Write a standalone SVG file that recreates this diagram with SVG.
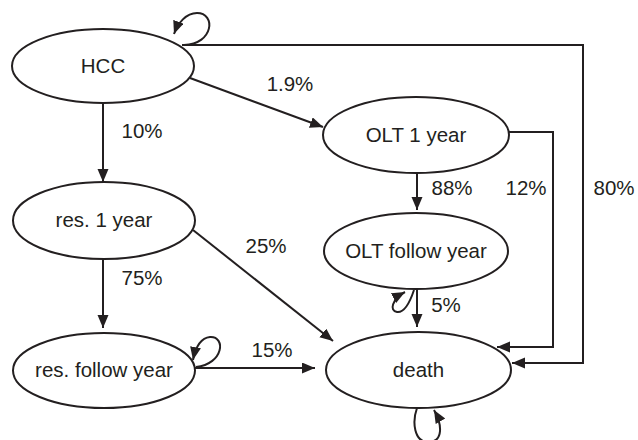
<svg xmlns="http://www.w3.org/2000/svg" width="638" height="440" viewBox="0 0 638 440">
<style>
.node ellipse{fill:#fff;stroke:#231f20;stroke-width:2}
text{font-family:"Liberation Sans",Arial,sans-serif;font-size:20.5px;fill:#231f20;text-anchor:middle}
.edge{fill:none;stroke:#231f20;stroke-width:2}
</style>
<defs>
<marker id="ah" markerUnits="userSpaceOnUse" markerWidth="14" markerHeight="12" refX="13" refY="5.5" orient="auto">
<path d="M0,0 L13,5.5 L0,11 z" fill="#231f20"/>
</marker>
</defs>
<rect width="638" height="440" fill="#fff"/>
<g id="connectors">
<path class="edge" d="M184,45 C214,44 216,13 197,13 C186,13 178,23 174,34" marker-end="url(#ah)"/>
<path class="edge" d="M182,45 L583,45 L583,363 L512,363" marker-end="url(#ah)"/>
<path class="edge" d="M190,78 L323,127" marker-end="url(#ah)"/>
<path class="edge" d="M103,103 L103,182" marker-end="url(#ah)"/>
<path class="edge" d="M509,132 L553,132 L553,347 L497,347" marker-end="url(#ah)"/>
<path class="edge" d="M417,173 L417,210" marker-end="url(#ah)"/>
<path class="edge" d="M417,289 L417,327" marker-end="url(#ah)"/>
<path class="edge" d="M414,290 C410,302 404,313 397,312 C389,311 392,299 405,292" marker-end="url(#ah)"/>
<path class="edge" d="M193,230 L333,341" marker-end="url(#ah)"/>
<path class="edge" d="M103,259 L103,328" marker-end="url(#ah)"/>
<path class="edge" d="M195,368 L315,368" marker-end="url(#ah)"/>
<path class="edge" d="M196,367 C224,364 226,336 210,337 C200,338 195,350 193,360" marker-end="url(#ah)"/>
<path class="edge" d="M417,408 C412,422 414,442 428,442 C444,442 442,424 434,410" marker-end="url(#ah)"/>
</g>
<g id="labels">
<text x="290" y="91">1.9%</text>
<text x="142" y="138">10%</text>
<text x="452" y="195">88%</text>
<text x="526" y="195">12%</text>
<text x="614" y="195">80%</text>
<text x="266" y="253">25%</text>
<text x="142" y="285">75%</text>
<text x="446" y="312">5%</text>
<text x="272" y="357">15%</text>
</g>
<g id="HCC" class="node"><ellipse cx="103" cy="66" rx="91" ry="37"/><text x="103" y="73">HCC</text></g>
<g id="OLT1" class="node"><ellipse cx="416" cy="135" rx="93" ry="38"/><text x="416" y="142">OLT 1 year</text></g>
<g id="OLTfollow" class="node"><ellipse cx="416" cy="251" rx="92" ry="38"/><text x="416" y="258">OLT follow year</text></g>
<g id="res1" class="node"><ellipse cx="104" cy="220.5" rx="91" ry="38.5"/><text x="104" y="227">res. 1 year</text></g>
<g id="resfollow" class="node"><ellipse cx="104" cy="370.5" rx="91" ry="37.5"/><text x="104" y="377">res. follow year</text></g>
<g id="death" class="node"><ellipse cx="418.5" cy="370" rx="92.5" ry="38"/><text x="418.5" y="377">death</text></g>
</svg>
